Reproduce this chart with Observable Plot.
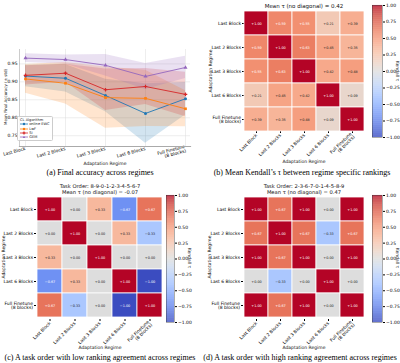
<!DOCTYPE html>
<html><head><meta charset="utf-8">
<script src="https://cdn.jsdelivr.net/npm/d3@7"></script>
<script src="https://cdn.jsdelivr.net/npm/@observablehq/plot@0.6"></script>
<style>
body{margin:0;background:#fff}
#root{position:relative;width:400px;height:363px;overflow:hidden;font-family:"DejaVu Sans";background:#fff}
.abs{position:absolute}
.t{position:absolute;white-space:nowrap;transform:translate(-50%,-50%);line-height:1.15;text-align:center;color:#111}
.cap{font-family:"Liberation Serif";font-size:8px;color:#000}
.legend{position:absolute;border:0.5px solid #ccc;border-radius:1.5px;background:rgba(255,255,255,0.85);font-size:3.6px;padding:1px 2px;line-height:4.3px;color:#222}
.legend svg{vertical-align:middle}
</style></head>
<body><div id="root"></div>
<script>
// ---------- data ----------
const regimes = ["Last Block","Last 2 Blocks","Last 3 Blocks","Last 6 Blocks","Full Finetune\n(8 blocks)"];
const algorithms = ["online EWC","LwF","SI","GEM"];
const ewcMean = [0.916,0.910,0.862,0.812,0.853];
const ewcStd  = [0.030,0.038,0.045,0.083,0.045];
const lwfMean = [0.908,0.896,0.856,0.854,0.825];
const lwfStd  = [0.040,0.058,0.085,0.078,0.050];
const siMean  = [0.918,0.924,0.878,0.887,0.865];
const siStd   = [0.027,0.025,0.058,0.050,0.062];
const gemMean = [0.966,0.962,0.946,0.915,0.940];
const gemStd  = [0.012,0.013,0.030,0.036,0.031];
const accTicks = [0.75,0.80,0.85,0.90,0.95];

const tauMeanAll = [
  [1.00,0.59,0.55,0.21,0.39],
  [0.59,1.00,0.63,0.45,0.35],
  [0.55,0.63,1.00,0.42,0.48],
  [0.21,0.45,0.42,1.00,0.09],
  [0.39,0.35,0.48,0.09,1.00]];
const tauLow = [
  [1.00,0.00,0.33,-0.67,0.67],
  [0.00,1.00,0.00,0.33,-0.33],
  [0.33,0.00,1.00,0.00,0.00],
  [-0.67,0.33,0.00,1.00,-1.00],
  [0.67,-0.33,0.00,-1.00,1.00]];
const tauHigh = [
  [1.00,0.67,1.00,0.00,1.00],
  [0.67,1.00,0.67,-0.33,0.67],
  [1.00,0.67,1.00,0.00,1.00],
  [0.00,-0.33,0.00,1.00,0.00],
  [1.00,0.67,1.00,0.00,1.00]];
const cbTicks = [-1,-0.75,-0.5,-0.25,0,0.25,0.5,0.75,1];

// ---------- styles ----------
const algColors = ["#1f77b4","#ff7f0e","#d62728","#9467bd"];
const algSymbols = ["circle","square","cross","triangle"];
const coolwarmStops = ["#3b4cc0","#445acc","#4d68d7","#5775e1","#6282ea","#6c8ef1","#779af7","#82a5fb","#8db0fe","#98b9ff","#a3c2ff","#aec9fd","#b8d0f9","#c2d5f4","#ccd9ee","#d5dbe6","#dddddd","#e5d8d1","#ecd3c5","#f1ccb9","#f5c4ad","#f7bba0","#f7b194","#f7a687","#f49a7b","#f18d6f","#ec7f63","#e57058","#de604d","#d55042","#cb3e38","#c0282f","#b40426"];
const coolwarm = d3.piecewise(d3.interpolateRgb, coolwarmStops);
const colorScale = {type:"linear", domain:[-1,1], interpolate: coolwarm};

const root = document.getElementById("root");
function put(el, x, y){ const d=document.createElement("div"); d.className="abs"; d.style.left=x+"px"; d.style.top=y+"px"; d.appendChild(el); root.appendChild(d); }
function label(text, x, y, size, rot, cls){ const d=document.createElement("div"); d.className="t"+(cls?" "+cls:""); d.style.left=x+"px"; d.style.top=y+"px"; d.style.fontSize=size+"px"; d.innerText=text; if(rot) d.style.transform=`translate(-50%,-50%) rotate(${rot}deg)`; root.appendChild(d); }

// ---------- (a) ----------
const means=[ewcMean,lwfMean,siMean,gemMean], stds=[ewcStd,lwfStd,siStd,gemStd];
const accRows = algorithms.flatMap((a,i)=>regimes.map((r,j)=>({alg:a, regime:r, m:means[i][j], s:stds[i][j]})));
const pa = Plot.plot({
  width:200, height:170, marginLeft:19, marginRight:10, marginTop:49, marginBottom:24,
  style:{fontSize:"4.5px", fontFamily:"DejaVu Sans", background:"transparent"},
  x:{type:"point", domain:regimes, padding:0.12, label:null, tickRotate:-15, tickSize:0, tickPadding:2},
  y:{domain:[0.72,0.99], ticks:accTicks, tickFormat:".2f", label:null, tickSize:0, tickPadding:2},
  color:{domain:algorithms, range:algColors},
  symbol:{domain:algorithms, range:algSymbols},
  marks:[
    Plot.gridY(accTicks,{stroke:"#ddd", strokeOpacity:1, strokeWidth:0.5}),
    Plot.gridX({stroke:"#ddd", strokeOpacity:1, strokeWidth:0.5}),
    Plot.areaY(accRows,{x:"regime", y1:d=>d.m-d.s, y2:d=>d.m+d.s, z:"alg", fill:"alg", fillOpacity:0.2}),
    Plot.lineY(accRows,{x:"regime", y:"m", z:"alg", stroke:"alg", strokeWidth:0.9}),
    Plot.dot(accRows,{x:"regime", y:"m", symbol:"alg", fill:"alg", r:1.5}),
    Plot.frame({anchor:"left", stroke:"#999", strokeWidth:0.5}),
    Plot.frame({anchor:"bottom", stroke:"#aaa", strokeWidth:1.2})
  ]
});
put(pa,0,0);
label("Mean Final Accuracy (± std)", 6, 97, 4, -90);
label("Adaptation Regime", 105, 164, 4.5);
// legend
const lg=document.createElement("div"); lg.className="legend"; lg.style.left="17px"; lg.style.top="116px";
let lh=`<div>CL Algorithm</div>`;
algorithms.forEach((a,i)=>{
  const c=algColors[i]; const s=algSymbols[i];
  let m = s==="circle"?`<circle cx="4" cy="2" r="1.2" fill="${c}"/>`:
          s==="square"?`<rect x="2.9" y="0.9" width="2.2" height="2.2" fill="${c}"/>`:
          s==="cross"?`<path d="M3.4 0.6h1.2v0.8h0.8v1.2h-0.8v0.8h-1.2v-0.8h-0.8v-1.2h0.8z" fill="${c}"/>`:
          `<path d="M4 0.8L5.2 3H2.8Z" fill="${c}"/>`;
  lh+=`<div><svg width="8" height="4"><line x1="0" y1="2" x2="8" y2="2" stroke="${c}" stroke-width="0.8"/>${m}</svg> ${a}</div>`;
});
lg.innerHTML=lh; root.appendChild(lg);
label("(a) Final accuracy across regimes", 100, 173, 8, 0, "cap");

// ---------- heatmaps ----------
const fmtCell = d3.format("+.2f");
function heat(matrix, L, T, W, H, m){
  const cells = matrix.flatMap((row,i)=>row.map((v,j)=>({row:regimes[i], col:regimes[j], v})));
  const p = Plot.plot({
    width:W, height:H, marginLeft:m[0], marginRight:m[1], marginTop:m[2], marginBottom:m[3],
    style:{fontSize:"4.5px", fontFamily:"DejaVu Sans", background:"transparent"},
    x:{domain:regimes, label:null, tickRotate:-45, tickSize:2, tickPadding:1, padding:0},
    y:{domain:regimes, label:null, tickSize:2, tickPadding:1.5, padding:0},
    color:colorScale,
    marks:[
      Plot.cell(cells,{x:"col", y:"row", fill:"v", stroke:"white", strokeWidth:0.8}),
      Plot.text(cells.filter(d=>Math.abs(d.v)>0.5),{x:"col", y:"row", text:d=>fmtCell(d.v), fill:"white", fontSize:3.4}),
      Plot.text(cells.filter(d=>Math.abs(d.v)<=0.5),{x:"col", y:"row", text:d=>fmtCell(d.v), fill:"#222", fontSize:3.4})
    ]
  });
  put(p,L,T);
}
function colorbar(L, T, H, mT, mB, barW){
  const steps = d3.range(-1,1,0.01);
  const p = Plot.plot({
    width:28, height:H, marginLeft:0, marginRight:28-barW, marginTop:mT, marginBottom:mB,
    style:{fontSize:"4.5px", fontFamily:"DejaVu Sans", background:"transparent"},
    x:{domain:[0,1], axis:null},
    y:{domain:[-1,1], axis:"right", ticks:cbTicks, tickFormat:".2f", tickSize:2, tickPadding:1.5, label:null},
    color:colorScale,
    marks:[
      Plot.rect(steps,{x1:0, x2:1, y1:d=>d, y2:d=>d+0.0105, fill:d=>d+0.005}),
      Plot.frame({stroke:"#333", strokeWidth:0.4})
    ]
  });
  put(p,L,T);
}

// (b)
heat(tauMeanAll, 200, 0, 172, 172, [44,8,11,41]);
colorbar(372, 0, 142, 5, 5, 10);
label("Mean τ (no diagonal) = 0.42", 304, 6, 5.5);
label("Adaptation Regime", 211, 71, 4.5, -90);
label("Adaptation Regime", 304, 162, 4.5);
label("Kendall τ", 397, 71, 4.5, 90);
label("(b) Mean Kendall’s τ between regime specific rankings", 302, 173, 8, 0, "cap");

// (c)
heat(tauLow, 0, 180, 166, 175, [36,3,15,36]);
colorbar(166, 180, 147, 15, 5, 8);
label("Task Order: 8-9-0-1-2-3-4-5-6-7\nMean τ (no diagonal) = -0.07", 100, 190, 5.2);
label("Adaptation Regime", 4, 257, 4.5, -90);
label("Adaptation Regime", 100, 348, 4.5);
label("Kendall τ", 189, 258, 4.5, 90);
label("(c) A task order with low ranking agreement across regimes", 100, 357.5, 8, 0, "cap");

// (d)
heat(tauHigh, 200, 180, 172, 175, [43,8,15,36]);
colorbar(372, 180, 147, 15, 5, 10);
label("Task Order: 2-3-6-7-0-1-4-5-8-9\nMean τ (no diagonal) = 0.47", 304, 190, 5.2);
label("Adaptation Regime", 210, 257, 4.5, -90);
label("Adaptation Regime", 304, 348, 4.5);
label("Kendall τ", 397, 258, 4.5, 90);
label("(d) A task order with high ranking agreement across regimes", 300, 357.5, 8, 0, "cap");
</script></body></html>
